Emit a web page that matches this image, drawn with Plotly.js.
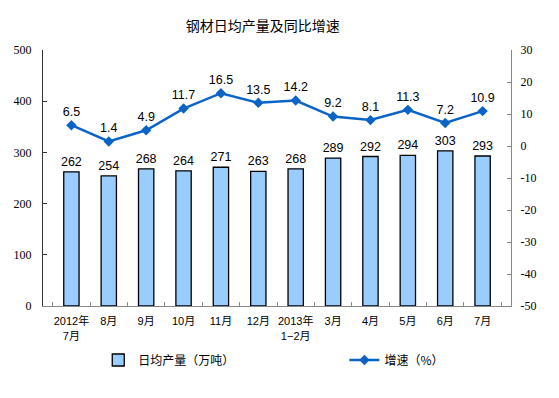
<!DOCTYPE html>
<html><head><meta charset="utf-8">
<script src="https://cdn.plot.ly/plotly-3.0.1.min.js"></script>
<style>html,body{margin:0;padding:0;background:#fff}#c{width:559px;height:398px}</style>
</head><body><div id="c"></div>
<script>
const categories = ["2012年<br>7月","8月","9月","10月","11月","12月","2013年<br>1−2月","3月","4月","5月","6月","7月"];
const output = [262,254,268,264,271,263,268,289,292,294,303,293];
const growth = [6.5,1.4,4.9,11.7,16.5,13.5,14.2,9.2,8.1,11.3,7.2,10.9];
const leftTicks = [0,100,200,300,400,500];
const rightTicks = [-50,-40,-30,-20,-10,0,10,20,30];
const rightTickText = ["-50","-40","-30","-20","-10","0","10","20","30"];

const cjk = '"Noto Sans CJK SC", sans-serif';
const data = [
  {type:'bar', x:categories, y:output, name:'日均产量（万吨）',
   marker:{color:'#99CCFF', line:{color:'#000', width:1.3}},
   width:0.41, legend:'legend',
   text:output.map(String), textposition:'outside', cliponaxis:false, constraintext:'none',
   textfont:{family:'Liberation Sans, Arial', size:12.5, color:'#000'}},
  {type:'scatter', mode:'lines+markers+text', x:categories, y:growth, yaxis:'y2',
   name:'增速（%）', legend:'legend2',
   line:{color:'#0A64C8', width:2.5},
   marker:{symbol:'diamond', size:8, color:'#0A64C8'},
   text:growth.map(v=>v.toFixed(1)), textposition:'top center', cliponaxis:false,
   textfont:{family:'Liberation Sans, Arial', size:12.5, color:'#000'}}
];
const legFont = {family:cjk, size:12, color:'#000'};
const layout = {
  width:559, height:398,
  margin:{l:43, r:48, t:50, b:92, autoexpand:false},
  paper_bgcolor:'#fff', plot_bgcolor:'#fff',
  showlegend:true,
  title:{text:'钢材日均产量及同比增速', font:{family:cjk, size:14, color:'#000'}, x:0.47, xanchor:'center', y:0.935, yanchor:'middle'},
  xaxis:{type:'category', showline:true, linecolor:'#888', linewidth:1, ticks:'inside', tickson:'boundaries', ticklen:4, tickcolor:'#888',
         tickangle:0, automargin:false, ticklabelstandoff:5,
         tickfont:{family:'"Liberation Sans", "Noto Sans CJK SC", sans-serif', size:11, color:'#000'}, showgrid:false, zeroline:false},
  yaxis:{range:[0,500], tickvals:leftTicks, showline:true, linecolor:'#333', linewidth:1, ticks:'inside', ticklen:4, tickcolor:'#333',
         automargin:false,
         tickfont:{family:'Liberation Serif, serif', size:12, color:'#000'}, showgrid:false, zeroline:false, ticklabelstandoff:8},
  yaxis2:{range:[-50,30], tickvals:rightTicks, ticktext:rightTickText, overlaying:'y', side:'right', showline:true, linecolor:'#888', linewidth:1, ticks:'inside', ticklen:4, tickcolor:'#888',
          automargin:false,
          tickfont:{family:'Liberation Serif, serif', size:12, color:'#000'}, showgrid:false, zeroline:false, ticklabelstandoff:6},
  legend:{orientation:'h', x:66/559, y:38/398, xref:'paper', yref:'container', xanchor:'left', yanchor:'middle', itemwidth:30,
          font:legFont, bgcolor:'rgba(0,0,0,0)'},
  legend2:{orientation:'h', x:360/559, y:38/398, xref:'paper', yref:'container', xanchor:'left', yanchor:'middle', itemwidth:30,
          font:legFont, bgcolor:'rgba(0,0,0,0)'}
};
Plotly.newPlot('c', data, layout, {displayModeBar:false, staticPlot:true});
</script></body></html>
